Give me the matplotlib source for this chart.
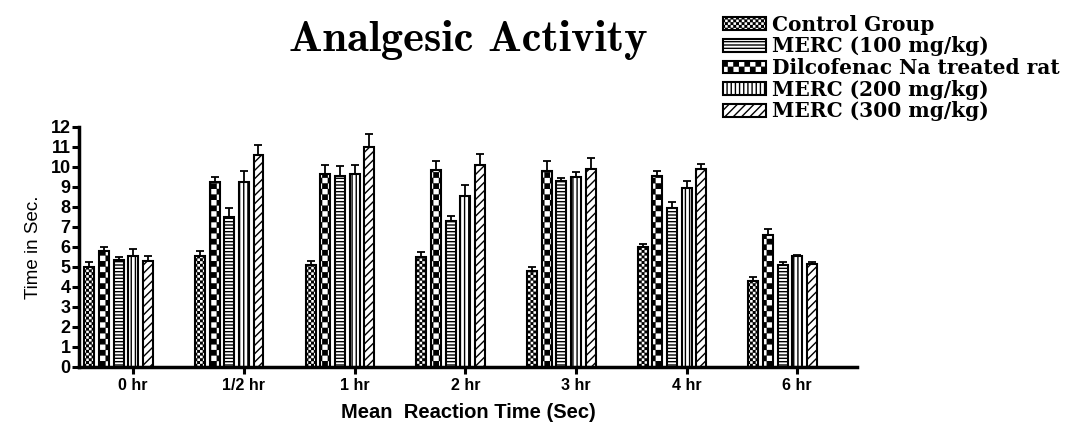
import numpy as np
import matplotlib
matplotlib.use("Agg")
import matplotlib.pyplot as plt
from matplotlib import hatch as mhatch
from matplotlib.path import Path

# checkerboard hatch: each 'c' in the hatch string adds `density` cells per side
class Checker(mhatch.HatchPatternBase):
    def __init__(self, hatch, density):
        self.n = hatch.count('c') * density
        self.num_vertices = (self.n * self.n // 2) * 5

    def set_vertices_and_codes(self, vertices, codes):
        n = self.n
        s = 1.0 / n
        d = 0.006  # pull squares in a bit, the hatch stroke widens them
        k = 0
        for i in range(n):
            for j in range(n):
                if (i + j) % 2 == 0:
                    x0, y0 = i * s + d, j * s + d
                    x1, y1 = (i + 1) * s - d, (j + 1) * s - d
                    vertices[k:k + 5] = [(x0, y0), (x1, y0), (x1, y1), (x0, y1), (x0, y0)]
                    codes[k:k + 5] = [Path.MOVETO, Path.LINETO, Path.LINETO,
                                      Path.LINETO, Path.CLOSEPOLY]
                    k += 5

mhatch._hatch_types.append(Checker)

import warnings
warnings.filterwarnings("ignore")

times = ["0 hr", "1/2 hr", "1 hr", "2 hr", "3 hr", "4 hr", "6 hr"]

control = [5.0, 5.55, 5.08, 5.5, 4.78, 5.98, 4.3]
control_err = [0.23, 0.23, 0.22, 0.23, 0.23, 0.17, 0.2]
diclofenac = [5.8, 9.27, 9.63, 9.87, 9.8, 9.55, 6.58]
diclofenac_err = [0.2, 0.23, 0.48, 0.42, 0.48, 0.23, 0.3]
merc100 = [5.33, 7.48, 9.55, 7.3, 9.28, 7.95, 5.08]
merc100_err = [0.17, 0.47, 0.48, 0.23, 0.17, 0.3, 0.17]
merc200 = [5.55, 9.27, 9.63, 8.55, 9.5, 8.97, 5.55]
merc200_err = [0.37, 0.53, 0.48, 0.53, 0.23, 0.35, 0.03]
merc300 = [5.28, 10.6, 11.0, 10.12, 9.92, 9.92, 5.13]
merc300_err = [0.27, 0.52, 0.67, 0.53, 0.53, 0.25, 0.12]

labels = ["Control Group", "Dilcofenac Na treated rat", "MERC (100 mg/kg)",
          "MERC (200 mg/kg)", "MERC (300 mg/kg)"]
series = [control, diclofenac, merc100, merc200, merc300]
errors = [control_err, diclofenac_err, merc100_err, merc200_err, merc300_err]
hatches = ["cccccc", "ccc", "-----", "||||", "////"]

plt.rcParams["hatch.linewidth"] = 1.0
plt.rcParams["font.family"] = "Liberation Sans"

fig = plt.figure(figsize=(10.7, 4.23), dpi=100)
ax = fig.add_axes([0.0738, 0.1324, 0.7272, 0.5674])

x = np.arange(len(times))
step = 0.132
width = 0.09
bars = []
for i in range(5):
    b = ax.bar(x + (i - 3) * step, series[i], width, color="white",
               edgecolor="black", linewidth=1.5, hatch=hatches[i],
               yerr=[np.zeros(len(times)), errors[i]],
               error_kw=dict(ecolor="black", elinewidth=1.3, capsize=3, capthick=1.3),
               label=labels[i])
    bars.append(b)

ax.set_xlim(-0.49, 6.54)
ax.set_ylim(0, 12)
ax.set_yticks(range(13))
ax.set_xticks(x)
ax.set_xticklabels(times)
for t in ax.get_xticklabels():
    t.set_fontweight("bold")
    t.set_fontsize(11.5)
for t in ax.get_yticklabels():
    t.set_fontweight("bold")
    t.set_fontsize(13)
ax.tick_params(axis="both", width=2.2, length=5, direction="out")
ax.tick_params(axis="y", pad=1)
ax.tick_params(axis="x", pad=3)
for s in ["top", "right"]:
    ax.spines[s].set_visible(False)
for s in ["left", "bottom"]:
    ax.spines[s].set_linewidth(2.5)

ax.set_ylabel("Time in Sec.", fontsize=13.5, labelpad=6)
ax.set_xlabel("Mean  Reaction Time (Sec)", fontsize=14.5, fontweight="bold", labelpad=7)

fig.text(0.438, 0.905, "Analgesic Activity", ha="center", va="center",
         family="cmb10", fontsize=32)

order = [0, 2, 1, 3, 4]
leg = fig.legend([bars[i] for i in order], [labels[i] for i in order],
                 loc="upper left", bbox_to_anchor=(0.676, 0.965), frameon=False,
                 prop=dict(family="DejaVu Serif", weight="bold", size=14.5),
                 handlelength=2.1, handleheight=0.6, handletextpad=0.3,
                 labelspacing=0.08, borderaxespad=0, borderpad=0)

fig.savefig("out.png", dpi=100)
